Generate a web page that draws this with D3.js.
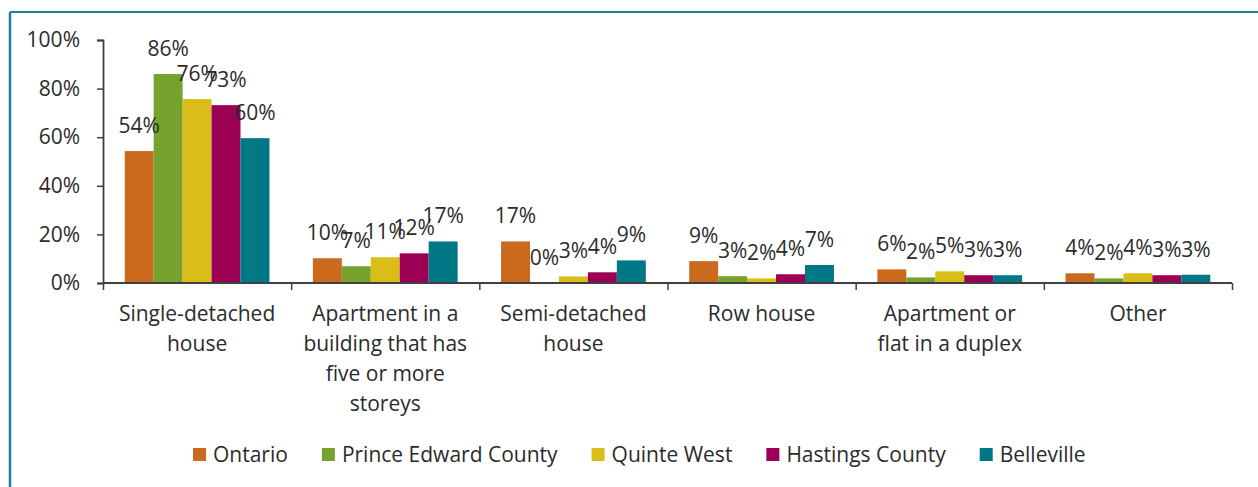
<!DOCTYPE html>
<html>
<head>
<meta charset="utf-8">
<script src="https://cdn.jsdelivr.net/npm/d3@7"></script>
<style>
  html, body { margin: 0; padding: 0; background: #fff; }
  svg { display: block; font-family: "Open Sans", "Noto Sans", sans-serif; }
  text { fill: #2b2b2b; }
</style>
</head>
<body>
<svg id="chart" width="1258" height="487"></svg>
<script>
// Dwelling types (each entry is a list of wrapped label lines)
const categories = [
  ["Single-detached", "house"],
  ["Apartment in a", "building that has", "five or more", "storeys"],
  ["Semi-detached", "house"],
  ["Row house"],
  ["Apartment or", "flat in a duplex"],
  ["Other"]
];
const seriesNames = ["Ontario", "Prince Edward County", "Quinte West", "Hastings County", "Belleville"];
const seriesColors = ["#C96A1E", "#78A22F", "#DBBD19", "#9C0055", "#007886"];

// Share of dwellings per type (percent), one array per region
const ontario      = [54.3, 10.2, 17.1, 9.0, 5.6, 4.0];
const princeEdward = [86.0,  6.9,  0.0, 2.8, 2.3, 1.9];
const quinteWest   = [75.7, 10.6,  2.7, 1.9, 4.8, 4.0];
const hastings     = [73.2, 12.2,  4.4, 3.6, 3.2, 3.2];
const belleville   = [59.6, 17.1,  9.3, 7.4, 3.2, 3.4];
const seriesValues = [ontario, princeEdward, quinteWest, hastings, belleville];

const yTicks = [0, 20, 40, 60, 80, 100];

const FONT = 21;
const svg = d3.select("#chart");
const W = 1258, H = 487;
const plotLeft = 103, plotRight = 1232, plotTop = 40, plotBottom = 283;

// Frame lines (top and left)
svg.append("line").attr("x1", 10).attr("x2", W).attr("y1", 12).attr("y2", 12)
  .attr("stroke", "#1B8098").attr("stroke-width", 2);
svg.append("line").attr("x1", 10).attr("x2", 10).attr("y1", 12).attr("y2", H)
  .attr("stroke", "#1B8098").attr("stroke-width", 2.5);

const catKeys = categories.map(c => c.join(" "));
const x0 = d3.scaleBand().domain(catKeys).range([plotLeft, plotRight])
  .paddingInner(1.5 / 6.5).paddingOuter(0.75 / 6.5);
const x1 = d3.scaleBand().domain(seriesNames).range([0, x0.bandwidth()]);
const y = d3.scaleLinear().domain([0, 100]).range([plotBottom, plotTop]);
const xIdx = d3.scaleLinear().domain([0, categories.length]).range([plotLeft, plotRight]);

// Bars
const rows = [];
categories.forEach((c, ci) => seriesNames.forEach((s, si) => {
  rows.push({ cat: catKeys[ci], series: s, si, value: seriesValues[si][ci] });
}));

svg.append("g").selectAll("rect").data(rows).join("rect")
  .attr("x", d => x0(d.cat) + x1(d.series))
  .attr("width", x1.bandwidth())
  .attr("y", d => y(d.value))
  .attr("height", d => y(0) - y(d.value))
  .attr("fill", d => seriesColors[d.si]);

// Value labels
svg.append("g").selectAll("text").data(rows).join("text")
  .attr("x", d => x0(d.cat) + x1(d.series) + x1.bandwidth() / 2)
  .attr("y", d => y(d.value) - 18)
  .attr("text-anchor", "middle")
  .attr("font-size", FONT)
  .text(d => Math.round(d.value) + "%");

// Y axis
const yAxis = svg.append("g").attr("transform", `translate(${plotLeft},0)`)
  .call(d3.axisLeft(y).tickValues(yTicks).tickSize(6).tickPadding(17).tickFormat(d => d + "%"));
yAxis.select(".domain").attr("stroke", "#404040").attr("stroke-width", 1.8);
yAxis.selectAll(".tick line").attr("stroke", "#404040").attr("stroke-width", 1.5);
yAxis.selectAll(".tick text").attr("font-size", FONT).attr("font-family", "Open Sans").attr("fill", "#2b2b2b");

// X axis: ticks between categories
const xAxis = svg.append("g").attr("transform", `translate(0,${plotBottom})`)
  .call(d3.axisBottom(xIdx).tickValues(d3.range(categories.length + 1)).tickSize(7).tickFormat(""));
xAxis.select(".domain").attr("stroke", "#404040").attr("stroke-width", 1.8)
  .attr("d", `M${plotLeft},0H${plotRight}`);
xAxis.selectAll(".tick line").attr("stroke", "#404040").attr("stroke-width", 1.5);

// Category labels
const catLabels = svg.append("g").selectAll("text").data(categories).join("text")
  .attr("text-anchor", "middle")
  .attr("font-size", FONT)
  .attr("transform", (d, i) => `translate(${x0(catKeys[i]) + x0.bandwidth() / 2},321)`);
catLabels.selectAll("tspan").data(d => d).join("tspan")
  .attr("x", 0).attr("y", (d, i) => i * 30).text(d => d);

// Legend
const legend = svg.append("g");
let lx = 193;
seriesNames.forEach((s, i) => {
  legend.append("rect").attr("x", lx).attr("y", 448).attr("width", 13).attr("height", 13)
    .attr("fill", seriesColors[i]);
  const t = legend.append("text").attr("x", lx + 20).attr("y", 462)
    .attr("font-size", FONT).text(s);
  lx += 20 + t.node().getComputedTextLength() + 34;
});
</script>
</body>
</html>
